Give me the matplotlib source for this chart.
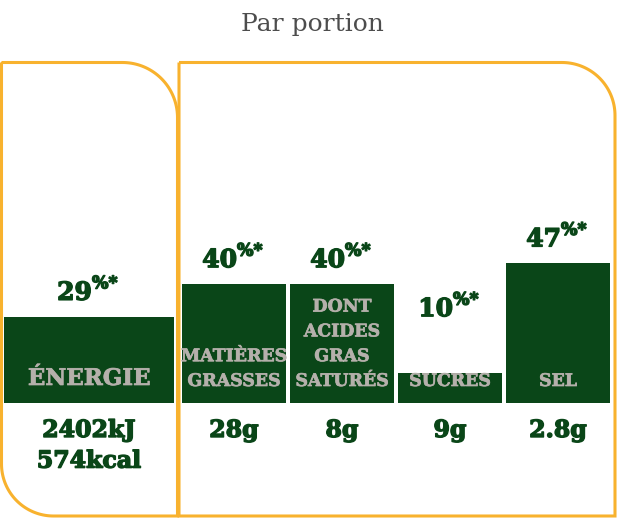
import numpy as np
import matplotlib
matplotlib.use('Agg')
import matplotlib.pyplot as plt
import matplotlib.patheffects as pe
from matplotlib.path import Path
from matplotlib.patches import PathPatch

# ---------------------------------------------------------------------------
# Data
# ---------------------------------------------------------------------------
title = 'Par portion'
categories = ['ÉNERGIE', 'MATIÈRES\nGRASSES', 'DONT\nACIDES\nGRAS\nSATURÉS', 'SUCRES', 'SEL']
percent = [29, 40, 40, 10, 47]
amounts = ['2402kJ\n574kcal', '28g', '8g', '9g', '2.8g']

# ---------------------------------------------------------------------------
# Styling / layout (pixels, figure is 622 x 519 at dpi 100)
# ---------------------------------------------------------------------------
W, H = 622, 519
GREEN = '#0a4618'
ORANGE = '#f8b22e'
LABEL_GREY = '#b5b0ab'
FONT = 'DejaVu Serif'

baseline_px = 403
px_per_pct = 2.97
bar_centers = [89, 234, 342, 450, 558]
bar_widths = [170, 104, 104, 104, 104]
cat_sizes = [16.5, 12.5, 12.5, 12.5, 12.5]
label_floor = 23.5   # percent labels never sit lower than this

fig = plt.figure(figsize=(W / 100, H / 100), dpi=100)

# background axes in pixel coordinates for frames and title
bg = fig.add_axes([0, 0, 1, 1])
bg.set_xlim(0, W)
bg.set_ylim(H, 0)
bg.axis('off')


def rounded_box(x0, y0, x1, y1, r_tr=0, r_bl=0, n=40):
    pts = [(x0, y0)]
    if r_tr:
        t = np.linspace(-np.pi / 2, 0, n)
        pts += list(zip(x1 - r_tr + r_tr * np.cos(t), y0 + r_tr + r_tr * np.sin(t)))
    else:
        pts.append((x1, y0))
    pts.append((x1, y1))
    if r_bl:
        t = np.linspace(np.pi / 2, np.pi, n)
        pts += list(zip(x0 + r_bl + r_bl * np.cos(t), y1 - r_bl + r_bl * np.sin(t)))
    else:
        pts.append((x0, y1))
    pts.append((x0, y0))
    return Path(pts)


bg.add_patch(PathPatch(rounded_box(1.5, 62.5, 177.5, 516, r_tr=55, r_bl=52),
                       fill=False, edgecolor=ORANGE, lw=2.2))
bg.add_patch(PathPatch(rounded_box(179, 62.5, 615, 516, r_tr=53),
                       fill=False, edgecolor=ORANGE, lw=2.2))

bg.text(W / 2 + 1, 24, title, ha='center', va='center', fontsize=18,
        family=FONT, color='#4d4d4d')

# bar axes: x in pixels, y in percent
ax = fig.add_axes([0, (H - baseline_px) / H, 1, 100 * px_per_pct / H])
ax.set_xlim(0, W)
ax.set_ylim(0, 100)
ax.axis('off')

ax.bar(bar_centers, percent, width=bar_widths, color=GREEN, linewidth=0)

heavy_green = [pe.withStroke(linewidth=1.0, foreground=GREEN)]
heavy_grey = [pe.withStroke(linewidth=0.5, foreground=LABEL_GREY)]

for x, p, cat, amt, cs in zip(bar_centers, percent, categories, amounts, cat_sizes):
    ly = max(p, label_floor)
    ax.annotate(str(p), (x, ly), xytext=(3, 24), textcoords='offset pixels',
                ha='right', va='center', fontsize=18, fontweight='bold',
                family=FONT, color=GREEN, path_effects=heavy_green)
    ax.annotate('%*', (x, ly), xytext=(3, 33), textcoords='offset pixels',
                ha='left', va='center', fontsize=12.5, fontweight='bold',
                family=FONT, color=GREEN, path_effects=heavy_green)
    ax.annotate(cat, (x, 0), xytext=(0, 13), textcoords='offset pixels',
                ha='center', va='bottom', fontsize=cs, fontweight='bold',
                family=FONT, color=LABEL_GREY, linespacing=1.6,
                multialignment='center', path_effects=heavy_grey)
    ax.annotate(amt, (x, 0), xytext=(0, -15), textcoords='offset pixels',
                ha='center', va='top', fontsize=17, fontweight='bold',
                family=FONT, color=GREEN, linespacing=1.35,
                multialignment='center', path_effects=heavy_green)

fig.savefig('out.png', dpi=100)
